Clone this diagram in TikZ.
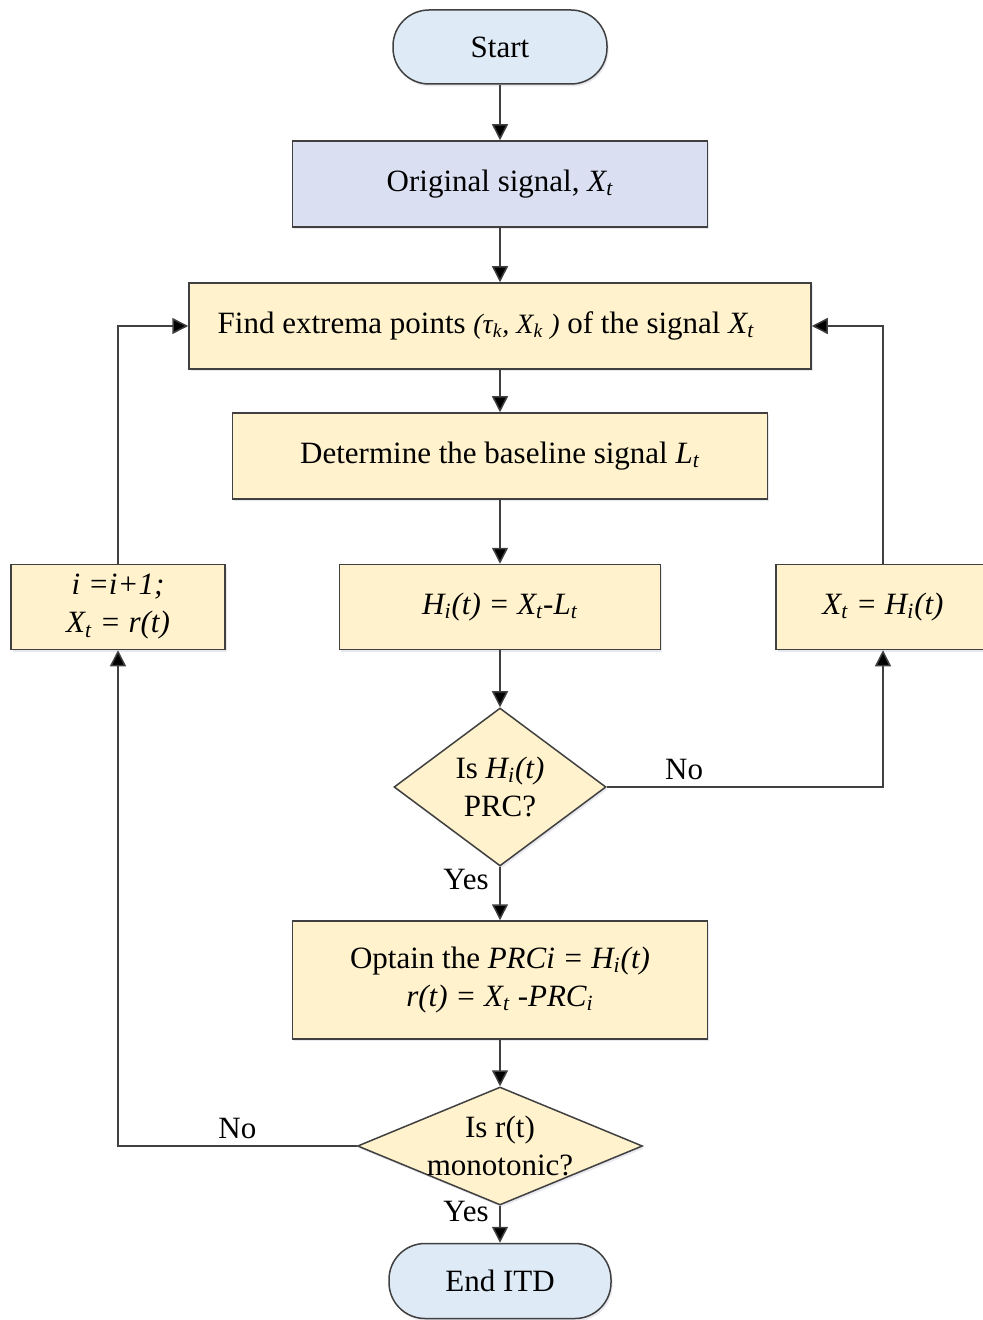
\documentclass[tikz,border=0pt]{standalone}
\usepackage{fontspec}
\setmainfont{Liberation Serif}
\usetikzlibrary{shapes.geometric,arrows.meta,shadows}
\newcommand{\low}[1]{\textsubscript{#1}}
\definecolor{termblue}{RGB}{222,234,246}
\definecolor{inblue}{RGB}{218,223,242}
\definecolor{stepyellow}{RGB}{255,242,204}
\definecolor{linegray}{RGB}{64,64,64}
\begin{document}
\begin{tikzpicture}[x=0.5pt, y=-0.5pt,
  every node/.style={align=center, font=\fontsize{15.5}{19}\selectfont},
  box/.style={draw=linegray, line width=0.75pt, fill=stepyellow, minimum height=43pt, inner sep=0pt,
    drop shadow={shadow xshift=0.8pt, shadow yshift=-1.2pt, opacity=0.3, fill=blue!30!black!30}},
  term/.style={box, fill=termblue, minimum height=37pt, rounded corners=18pt},
  decision/.style={diamond, draw=linegray, line width=0.75pt, fill=stepyellow, inner sep=0pt,
    drop shadow={shadow xshift=0.8pt, shadow yshift=-1.2pt, opacity=0.3, fill=blue!30!black!30}},
  arr/.style={-{Triangle[length=8pt,width=8pt,fill=black]}, draw=linegray, line width=0.75pt}]
\useasboundingbox (0,0) rectangle (982,1320);

% main column
\node (start) [term, minimum width=107pt] at (500,47) {Start};
\node (orig) [box, fill=inblue, minimum width=207.5pt] at (500,184) {Original signal, \textit{X\low{t}}};
\node (find) [box, minimum width=311pt] at (500,326) {Find extrema points {\fontsize{14}{19}\selectfont\textit{(τ\low{k}, X\low{k} )}} of the signal \textit{X\low{t}}\hspace{14pt}};
\node (base) [box, minimum width=267.5pt] at (500,456) {Determine the baseline signal \textit{L\low{t}}};
\node (hi) [box, minimum width=160.5pt, minimum height=42.5pt] at (500,607) {\textit{H\low{i}(t) = X\low{t}-L\low{t}}};
\node (prc) [decision, minimum width=106pt, minimum height=79pt] at (500,787) {};
\node (prctext) at (prc) {Is \textit{H\low{i}(t)}\\PRC?};
\node (prcout) [box, minimum width=207.5pt, minimum height=59pt] at (500,980) {Optain the \textit{PRCi = H\low{i}(t)}\\\textit{r(t) = X\low{t} -PRC\low{i}}};
\node (mono) [decision, minimum width=142.5pt, minimum height=59pt] at (500,1146) {};
\node (monotext) at (mono) {Is r(t)\\monotonic?};
\node (stop) [term, minimum width=111pt, minimum height=37.5pt] at (500,1281) {End ITD};

% side boxes
\node (inc) [box, minimum width=107pt, minimum height=42.5pt] at (118,607) {\textit{i =i+1;}\\\textit{X\low{t} = r(t)}};
\node (upd) [box, minimum width=107pt, minimum height=42.5pt] at (883,607) {\textit{X\low{t} = H\low{i}(t)}};

\draw[arr] (start) -- (orig);
\draw[arr] (orig) -- (find);
\draw[arr] (find) -- (base);
\draw[arr] (base) -- (hi);
\draw[arr] (hi) -- (prc);
\draw[arr] (prc) -- node[left, pos=0.24, xshift=-2pt]{Yes} (prcout);
\draw[arr] (prc.east) -| node[above, pos=0.14]{No} (upd);
\draw[arr] (upd) |- (find);
\draw[arr] (prcout) -- (mono);
\draw[arr] (mono) -- node[left, pos=0.15, xshift=-2pt]{Yes} (stop);
\draw[arr] (mono.west) -| node[above, pos=0.25]{No} (inc);
\draw[arr] (inc) |- (find);
\end{tikzpicture}
\end{document}
